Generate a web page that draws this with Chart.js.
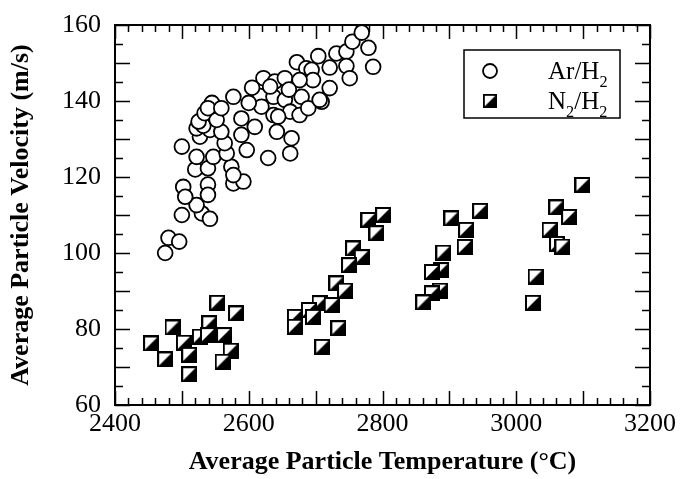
<!DOCTYPE html>
<html>
<head>
<meta charset="utf-8">
<script src="https://cdn.jsdelivr.net/npm/chart.js@4.4.1/dist/chart.umd.min.js"></script>
<style>
    html, body { margin: 0; padding: 0; background: #fff; }
    #wrap { width: 680px; height: 479px; position: relative; }
</style>
</head>
<body>
<div id="wrap"><canvas id="velChart"></canvas></div>
<script>
// Series names (digits after a letter are drawn as subscripts)
var seriesNames = ['Ar/H2', 'N2/H2'];

// Ar/H2 points
var arTemp = [2475, 2480, 2496, 2500, 2530, 2542, 2522, 2502, 2505, 2539, 2539, 2577, 2592,
    2520, 2539, 2547, 2522, 2500, 2574, 2577, 2567, 2564, 2597, 2629, 2662, 2642, 2664,
    2527, 2522, 2542, 2559, 2589, 2609, 2532, 2525, 2534, 2552, 2545, 2539, 2559, 2589,
    2577, 2617, 2637, 2637, 2619, 2654, 2662, 2676, 2644, 2622, 2639, 2654, 2672, 2686,
    2694, 2696, 2676, 2679, 2709, 2689, 2706, 2721, 2704, 2721, 2731, 2746, 2746, 2751,
    2755, 2769, 2779, 2786, 2605, 2632, 2660, 2600];
var arVel = [100, 104, 103, 110, 110.4, 109, 112.6, 117.4, 114.8, 118, 115.3, 118.3, 118.8,
    122, 122.3, 125.3, 125.3, 128, 122.7, 120.5, 126.2, 128.9, 127.1, 125, 126.2, 131.9, 130.2,
    130.6, 132.8, 132.4, 131.9, 131.1, 133.2, 133.5, 134.6, 136.8, 135, 139.5, 138.1, 138.1, 135.4,
    141.1, 141.3, 136.3, 141.1, 138.5, 140.3, 137.2, 136.3, 135.9, 146, 145.1, 146, 150.2, 148.6,
    148.2, 145.5, 145.5, 141.1, 139.8, 138.1, 140.3, 143.4, 151.8, 148.8, 152.5, 153, 149.2, 146,
    155.6, 158, 154, 149, 143.5, 143.8, 143, 139.5];

// N2/H2 points
var n2Temp = [2553, 2581, 2486, 2541, 2454, 2503, 2527, 2539, 2563, 2475, 2511, 2573, 2561, 2511,
    2801, 2779, 2791, 2756, 2769, 2750, 2731, 2744, 2706, 2724, 2690, 2669, 2696, 2669, 2734, 2710,
    2946, 2903, 2925, 2923, 2891, 2888, 2874, 2886, 2874, 2861,
    3099, 3060, 3079, 3050, 3061, 3069, 3029, 3025];
var n2Vel = [86.9, 84.1, 80.4, 81.5, 76.2, 76.4, 78.0, 78.4, 78.4, 72.0, 73.2, 74.3, 71.4, 68.1,
    110, 108.7, 105.2, 101.2, 98.9, 96.8, 92.0, 90.1, 86.8, 86.3, 85.0, 83.2, 83.2, 80.6, 80.2, 75.3,
    111.1, 109.1, 106.1, 101.6, 100.1, 95.5, 95.0, 90.1, 89.4, 87.0,
    117.9, 112, 109.5, 106.1, 102.4, 101.7, 93.8, 86.9];

// Tick labels
var xTickLabels = [2400, 2600, 2800, 3000, 3200];
var yTickLabels = [60, 80, 100, 120, 140, 160];

function toPoints(xs, ys) {
    return xs.map(function (x, i) { return { x: x, y: ys[i] }; });
}

// square marker, white upper-left half and black lower-right half
function makeHalfSquare(size) {
    var c = document.createElement('canvas');
    c.width = size;
    c.height = size;
    var g = c.getContext('2d');
    g.fillStyle = '#fff';
    g.fillRect(0, 0, size, size);
    g.fillStyle = '#000';
    g.beginPath();
    g.moveTo(size, 0);
    g.lineTo(size, size);
    g.lineTo(0, size);
    g.closePath();
    g.fill();
    g.strokeStyle = '#000';
    g.lineWidth = 2;
    g.strokeRect(1, 1, size - 2, size - 2);
    return c;
}
var halfSquare = makeHalfSquare(16);

// writes "N2/H2" with the digits lowered and smaller
function drawSubText(ctx, text, x, y, size) {
    for (var i = 0; i < text.length; i++) {
        var ch = text[i];
        var isSub = /[0-9]/.test(ch) && i > 0 && /[A-Za-z]/.test(text[i - 1]);
        ctx.font = (isSub ? size * 0.65 : size) + 'px "Liberation Serif", "Times New Roman", serif';
        ctx.fillText(ch, x, isSub ? y + size * 0.3 : y);
        x += ctx.measureText(ch).width;
    }
}

// inward ticks on all four sides plus the frame
var frameTicks = {
    id: 'frameTicks',
    beforeDatasetsDraw: function (chart) {
        var a = chart.chartArea, ctx = chart.ctx;
        var xs = chart.scales.x, ys = chart.scales.y;
        ctx.save();
        ctx.strokeStyle = '#000';
        ctx.lineWidth = 1.5;
        ctx.beginPath();
        for (var v = xs.min; v <= xs.max; v += 20) {
            var px = Math.round(xs.getPixelForValue(v)) + 0.5;
            var len = v % 100 === 0 ? 14 : 7;
            ctx.moveTo(px, a.bottom); ctx.lineTo(px, a.bottom - len);
            ctx.moveTo(px, a.top); ctx.lineTo(px, a.top + len);
        }
        for (var w = ys.min; w <= ys.max; w += 5) {
            var py = Math.round(ys.getPixelForValue(w)) + 0.5;
            var l2 = w % 10 === 0 ? 15 : 8;
            ctx.moveTo(a.left, py); ctx.lineTo(a.left + l2, py);
            ctx.moveTo(a.right, py); ctx.lineTo(a.right - l2, py);
        }
        ctx.stroke();
        ctx.lineWidth = 2;
        ctx.strokeRect(a.left, a.top, a.right - a.left, a.bottom - a.top);
        ctx.restore();
    }
};

// boxed legend inside the plot, top right
var boxLegend = {
    id: 'boxLegend',
    afterDatasetsDraw: function (chart) {
        var ctx = chart.ctx;
        var bx = 464, by = 50, bw = 156, bh = 68;
        ctx.save();
        ctx.fillStyle = '#fff';
        ctx.fillRect(bx, by, bw, bh);
        ctx.strokeStyle = '#000';
        ctx.lineWidth = 1.5;
        ctx.strokeRect(bx, by, bw, bh);

        // circle
        ctx.beginPath();
        ctx.arc(bx + 26, by + 21, 7, 0, Math.PI * 2);
        ctx.fillStyle = '#fff';
        ctx.fill();
        ctx.lineWidth = 1.8;
        ctx.stroke();
        // square
        ctx.drawImage(halfSquare, bx + 26 - 7, by + 51 - 7, 14, 14);

        ctx.fillStyle = '#000';
        ctx.textBaseline = 'alphabetic';
        drawSubText(ctx, chart.data.datasets[0].label, bx + 84, by + 29, 25);
        drawSubText(ctx, chart.data.datasets[1].label, bx + 84, by + 59, 25);
        ctx.restore();
    }
};

var serif = '"Liberation Serif", "Times New Roman", serif';
var plainNumber = function (v) { return String(v); };

var ctx = document.getElementById('velChart').getContext('2d');
var velChart = new Chart(ctx, {
    type: 'scatter',
    data: {
        datasets: [{
            label: seriesNames[0],
            data: toPoints(arTemp, arVel),
            pointStyle: 'circle',
            pointRadius: 7.4,
            borderWidth: 1.8,
            borderColor: '#000',
            backgroundColor: '#fff'
        }, {
            label: seriesNames[1],
            data: toPoints(n2Temp, n2Vel),
            pointStyle: halfSquare,
            pointRadius: 8,
            borderColor: '#000',
            backgroundColor: '#000'
        }]
    },
    options: {
        responsive: true,
        maintainAspectRatio: false,
        animation: false,
        layout: { padding: { top: 25, right: 30, bottom: 0, left: 0 } },
        plugins: {
            legend: { display: false },
            tooltip: { enabled: false }
        },
        scales: {
            x: {
                type: 'linear',
                min: 2400,
                max: 3200,
                afterBuildTicks: function (scale) {
                    scale.ticks = xTickLabels.map(function (v) { return { value: v }; });
                },
                afterFit: function (scale) {
                    scale.height = 74;
                    scale.paddingLeft = 0;
                    scale.paddingRight = 0;
                },
                grid: { display: false, drawTicks: false },
                border: { display: false },
                ticks: { color: '#000', padding: 4, maxRotation: 0, callback: plainNumber,
                    font: { family: serif, size: 26 } },
                title: {
                    display: true,
                    text: 'Average Particle Temperature (°C)',
                    color: '#000',
                    padding: { top: 0, bottom: 1 },
                    font: { family: serif, size: 26, weight: 'bold' }
                }
            },
            y: {
                type: 'linear',
                min: 60,
                max: 160,
                afterBuildTicks: function (scale) {
                    scale.ticks = yTickLabels.map(function (v) { return { value: v }; });
                },
                afterFit: function (scale) {
                    scale.width = 115;
                    scale.paddingTop = 0;
                    scale.paddingBottom = 0;
                },
                grid: { display: false, drawTicks: false },
                border: { display: false },
                ticks: { color: '#000', padding: 14, callback: plainNumber,
                    font: { family: serif, size: 26 } },
                title: {
                    display: true,
                    text: 'Average Particle Velocity (m/s)',
                    color: '#000',
                    padding: { top: 6, bottom: 0 },
                    font: { family: serif, size: 26, weight: 'bold' }
                }
            }
        }
    },
    plugins: [frameTicks, boxLegend]
});
</script>
</body>
</html>
